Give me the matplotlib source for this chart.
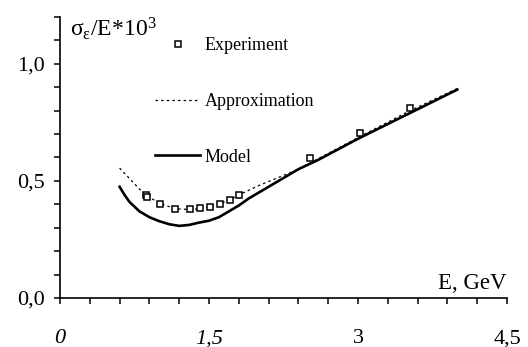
import matplotlib
matplotlib.use("Agg")
import matplotlib.pyplot as plt
from matplotlib.ticker import MultipleLocator

plt.rcParams["font.family"] = ["Liberation Serif", "DejaVu Serif"]
plt.rcParams["mathtext.fontset"] = "custom"
plt.rcParams["mathtext.rm"] = "Liberation Serif"
plt.rcParams["mathtext.it"] = "Liberation Serif:italic"

# experiment points
exp_e = [0.87, 0.88, 1.01, 1.16, 1.31, 1.41, 1.51, 1.61, 1.71, 1.80, 2.52, 3.02, 3.52]
exp_s = [0.44, 0.43, 0.40, 0.38, 0.38, 0.385, 0.39, 0.40, 0.42, 0.44, 0.60, 0.705, 0.81]

# approximation curve
app_e = [0.60, 0.70, 0.80, 0.90, 1.00, 1.10, 1.20, 1.30, 1.40, 1.50, 1.60, 1.70, 1.80,
         1.90, 2.00, 2.20, 2.40, 3.00, 3.50, 4.00]
app_s = [0.555, 0.51, 0.465, 0.43, 0.405, 0.39, 0.38, 0.378, 0.38, 0.388, 0.40, 0.418, 0.44,
         0.46, 0.48, 0.515, 0.55, 0.685, 0.795, 0.895]

# model curve
mod_e = [0.60, 0.65, 0.70, 0.80, 0.90, 1.00, 1.10, 1.20, 1.30, 1.40, 1.50, 1.60, 1.70,
         1.80, 1.90, 2.00, 2.20, 2.40, 2.60, 3.00, 3.50, 4.00]
mod_s = [0.475, 0.44, 0.41, 0.37, 0.345, 0.328, 0.315, 0.308, 0.312, 0.322, 0.33, 0.345, 0.37,
         0.395, 0.425, 0.45, 0.50, 0.55, 0.59, 0.68, 0.785, 0.89]

xticks = [0, 1.5, 3, 4.5]
xtick_labels = ["0", "1,5", "3", "4,5"]
yticks = [0, 0.5, 1.0]
ytick_labels = ["0,0", "0,5", "1,0"]

fig = plt.figure(figsize=(5.28, 3.47), dpi=100)
ax = fig.add_axes([60 / 528, 1 - 298 / 347, 447 / 528, 281 / 347])

ax.plot(mod_e, mod_s, color="black", lw=1.9, label="Model", zorder=2)
ax.plot(app_e, app_s, color="black", lw=0.9, dashes=(2, 2.5), label="Approximation", zorder=3)
ax.plot(exp_e, exp_s, ls="none", marker="s", ms=4, mfc="white", mec="black", mew=1.1,
        label="Experiment", zorder=4)

ax.set_xlim(0, 4.5)
ax.set_ylim(0, 1.2)
for s in ("top", "right"):
    ax.spines[s].set_visible(False)
for s in ("left", "bottom"):
    ax.spines[s].set_linewidth(1.2)

ax.set_xticks(xticks)
ax.set_xticklabels(xtick_labels, fontsize=16)
ax.xaxis.set_minor_locator(MultipleLocator(0.3))
ax.set_yticks(yticks)
ax.set_yticklabels(ytick_labels, fontsize=16)
ax.yaxis.set_minor_locator(MultipleLocator(0.1))
ax.tick_params(axis="x", which="both", direction="out", length=4.5, width=1.1, pad=18)
ax.tick_params(axis="y", which="both", direction="out", length=4, width=1.1, pad=7)
for lbl in ax.get_xticklabels()[:2]:
    lbl.set_style("italic")

ax.text(0.1, 1.15, r"$\mathrm{σ}_{\mathrm{ε}}$/E*10$^3$", fontsize=17, ha="left", va="center")
ax.text(4.5, 0.015, "E, GeV", fontsize=16.5, ha="right", va="bottom")

h, l = ax.get_legend_handles_labels()
order = [2, 1, 0]
ax.legend([h[i] for i in order], [l[i] for i in order], loc="upper left",
          bbox_to_anchor=(155 / 528, 1 - 37 / 347), bbox_transform=fig.transFigure,
          frameon=False, fontsize=13, handlelength=2.5, handletextpad=0.25,
          labelspacing=2.15, borderpad=0, borderaxespad=0)

fig.savefig("out.png", dpi=100, facecolor="white")
